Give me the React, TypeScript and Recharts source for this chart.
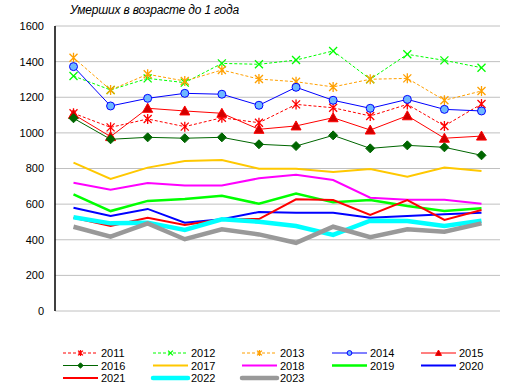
import React from 'react';
import { LineChart, Line, XAxis, YAxis, CartesianGrid } from 'recharts';

const months = ['I', 'II', 'III', 'IV', 'V', 'VI', 'VII', 'VIII', 'IX', 'X', 'XI', 'XII'];
const yTicks = [0, 200, 400, 600, 800, 1000, 1200, 1400, 1600];
const title = 'Умерших в возрасте до 1 года';

const s2011 = [1110, 1031, 1078, 1035, 1085, 1057, 1160, 1141, 1095, 1160, 1039, 1162];
const s2012 = [1319, 1241, 1306, 1282, 1390, 1385, 1409, 1460, 1301, 1441, 1407, 1366];
const s2013 = [1422, 1241, 1329, 1291, 1353, 1302, 1287, 1258, 1301, 1306, 1183, 1235];
const s2014 = [1372, 1151, 1194, 1222, 1217, 1155, 1256, 1183, 1138, 1188, 1132, 1123];
const s2015 = [1104, 979, 1138, 1123, 1110, 1020, 1039, 1085, 1016, 1096, 970, 982];
const s2016 = [1082, 964, 975, 970, 975, 936, 926, 986, 913, 930, 919, 874];
const s2017 = [833, 741, 805, 842, 848, 799, 799, 780, 797, 754, 805, 786];
const s2018 = [720, 681, 719, 704, 704, 745, 765, 735, 636, 625, 625, 602];
const s2019 = [655, 561, 618, 629, 647, 602, 659, 610, 623, 589, 561, 577];
const s2020 = [580, 533, 573, 496, 515, 556, 552, 552, 524, 533, 543, 552];
const s2021 = [524, 477, 524, 483, 515, 516, 627, 623, 539, 623, 511, 567];
const s2022 = [526, 492, 496, 455, 515, 501, 477, 427, 507, 505, 477, 507];
const s2023 = [473, 417, 492, 403, 459, 430, 383, 473, 415, 459, 445, 492];

const seriesValues: Record<string, number[]> = {
  '2011': s2011, '2012': s2012, '2013': s2013, '2014': s2014, '2015': s2015,
  '2016': s2016, '2017': s2017, '2018': s2018, '2019': s2019, '2020': s2020,
  '2021': s2021, '2022': s2022, '2023': s2023,
};

const data = months.map((m, i) => {
  const row: Record<string, string | number> = { month: m };
  Object.keys(seriesValues).forEach((k) => { row[k] = seriesValues[k][i]; });
  return row;
});

type Marker = 'asterisk' | 'cross' | 'circle' | 'triangle' | 'diamond' | null;

interface SeriesStyle {
  key: string;
  color: string;
  width: number;
  dash?: string;
  marker: Marker;
  fill?: string;
}

const styles: SeriesStyle[] = [
  { key: '2011', color: '#FF0000', width: 1, dash: '3 2', marker: 'asterisk' },
  { key: '2012', color: '#00FF00', width: 1, dash: '3 2', marker: 'cross' },
  { key: '2013', color: '#FFA000', width: 1, dash: '3 2', marker: 'asterisk' },
  { key: '2014', color: '#0000FF', width: 1, marker: 'circle', fill: '#6EB8FF' },
  { key: '2015', color: '#FF0000', width: 1, marker: 'triangle', fill: '#D00000' },
  { key: '2016', color: '#006600', width: 1, marker: 'diamond', fill: '#006600' },
  { key: '2017', color: '#FFC800', width: 2, marker: null },
  { key: '2018', color: '#FF00FF', width: 2, marker: null },
  { key: '2019', color: '#00FF00', width: 2.5, marker: null },
  { key: '2020', color: '#0000FF', width: 2, marker: null },
  { key: '2021', color: '#FF0000', width: 2, marker: null },
  { key: '2022', color: '#00FFFF', width: 4.5, marker: null },
  { key: '2023', color: '#999999', width: 4.5, marker: null },
];

const FONT = "Arial, 'Liberation Sans', sans-serif";

function markerShape(marker: Marker, cx: number, cy: number, color: string, fill: string | undefined, k: string | number, scale = 1) {
  const s = scale;
  switch (marker) {
    case 'asterisk':
      return (
        <path key={k} d={`M${cx - 4 * s},${cy - 4 * s}L${cx + 4 * s},${cy + 4 * s}M${cx - 4 * s},${cy + 4 * s}L${cx + 4 * s},${cy - 4 * s}M${cx},${cy - 5 * s}L${cx},${cy + 5 * s}`} stroke={color} strokeWidth={1.3} fill="none" />
      );
    case 'cross':
      return (
        <path key={k} d={`M${cx - 4 * s},${cy - 4 * s}L${cx + 4 * s},${cy + 4 * s}M${cx - 4 * s},${cy + 4 * s}L${cx + 4 * s},${cy - 4 * s}`} stroke={color} strokeWidth={1.3} fill="none" />
      );
    case 'circle':
      return <circle key={k} cx={cx} cy={cy} r={4 * s} stroke={color} strokeWidth={1} fill={fill} />;
    case 'triangle':
      return <path key={k} d={`M${cx},${cy - 5 * s}L${cx + 5 * s},${cy + 4 * s}L${cx - 5 * s},${cy + 4 * s}Z`} stroke={color} strokeWidth={1} fill={fill} />;
    case 'diamond':
      return <path key={k} d={`M${cx},${cy - 4.5 * s}L${cx + 4.5 * s},${cy}L${cx},${cy + 4.5 * s}L${cx - 4.5 * s},${cy}Z`} stroke={color} strokeWidth={1} fill={fill} />;
    default:
      return null;
  }
}

function makeDot(st: SeriesStyle) {
  if (!st.marker) return false;
  return (props: any) => {
    const { cx, cy, index } = props;
    if (cx == null || cy == null) return <g key={`e${index}`} />;
    return markerShape(st.marker, cx, cy, st.color, st.fill, `${st.key}-${index}`);
  };
}

function LegendBox() {
  const colX = [63, 153, 242, 332, 421];
  const rowY = [353, 365.5, 378];
  return (
    <svg width={514} height={52} style={{ position: 'absolute', left: 0, top: 340 }}>
      {styles.map((st, i) => {
        const col = i % 5;
        const row = Math.floor(i / 5);
        const x1 = colX[col];
        const x2 = x1 + 35;
        const y = rowY[row] - 340;
        return (
          <g key={st.key}>
            <line x1={x1} x2={x2} y1={y} y2={y} stroke={st.color} strokeWidth={st.width} strokeDasharray={st.dash} strokeLinecap={st.width > 3 ? 'round' : 'butt'} />
            {markerShape(st.marker, (x1 + x2) / 2, y, st.color, st.fill, 'm', 0.6)}
            <text x={x2 + 3} y={y + 4} fontFamily={FONT} fontSize={11} fill="#000">{st.key}</text>
          </g>
        );
      })}
    </svg>
  );
}

export default function App() {
  return (
    <div style={{ position: 'absolute', left: 0, top: 0, width: 514, height: 392, background: '#fff' }}>
      <div style={{ position: 'absolute', left: 70, top: 3, fontFamily: FONT, fontStyle: 'italic', fontSize: 12, color: '#000', letterSpacing: -0.2, whiteSpace: 'nowrap' }}>
        {title}
      </div>
      <div style={{ position: 'absolute', left: 0, top: 0 }}>
        <LineChart width={514} height={392} data={data} margin={{ top: 26, right: 14, bottom: 81, left: 5 }}>
          <CartesianGrid vertical={false} stroke="#C0C0C0" strokeWidth={1} />
          <XAxis
            dataKey="month"
            padding={{ left: 18.5, right: 18.5 }}
            axisLine={{ stroke: '#000', strokeWidth: 1.5 }}
            tickLine={false}
            tickSize={0}
            tickMargin={9}
            height={0}
            interval={0}
            tick={{ fill: '#000033', fontSize: 11, fontFamily: FONT }}
          />
          <XAxis xAxisId="top" orientation="top" dataKey="month" height={0} tick={false} tickLine={false} axisLine={{ stroke: '#808080' }} />
          <YAxis
            domain={[0, 1600]}
            ticks={yTicks}
            interval={0}
            width={50}
            axisLine={{ stroke: '#000', strokeWidth: 1.5 }}
            tickLine={false}
            tickSize={0}
            tickMargin={11}
            tick={{ fill: '#000', fontSize: 11, fontFamily: FONT }}
          />
          <YAxis yAxisId="right" orientation="right" width={0} domain={[0, 1600]} tick={false} tickLine={false} axisLine={{ stroke: '#808080' }} />
          {styles.map((st) => (
            <Line
              key={st.key}
              dataKey={st.key}
              stroke={st.color}
              strokeWidth={st.width}
              strokeDasharray={st.dash}
              dot={makeDot(st) as any}
              activeDot={false}
              isAnimationActive={false}
              type="linear"
            />
          ))}
        </LineChart>
      </div>
      <LegendBox />
    </div>
  );
}
